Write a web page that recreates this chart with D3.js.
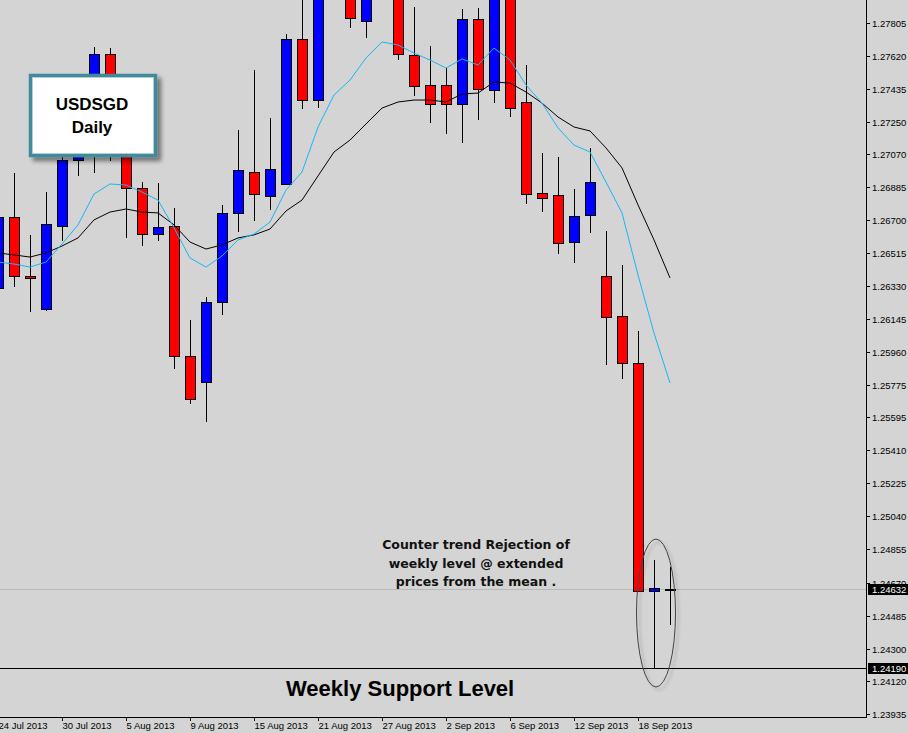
<!DOCTYPE html>
<html><head><meta charset="utf-8">
<script src="https://cdn.jsdelivr.net/npm/d3@7"></script>
<style>html,body{margin:0;padding:0;background:#d4d4d4;}svg{display:block}</style>
</head><body>
<svg id="chart" width="908" height="733"></svg>
<script>
// ---- data ----
const dates = ["2013-07-24","2013-07-25","2013-07-26","2013-07-29","2013-07-30","2013-07-31","2013-08-01","2013-08-02","2013-08-05","2013-08-06","2013-08-07","2013-08-08","2013-08-09","2013-08-12","2013-08-13","2013-08-14","2013-08-15","2013-08-16","2013-08-19","2013-08-20","2013-08-21","2013-08-22","2013-08-23","2013-08-26","2013-08-27","2013-08-28","2013-08-29","2013-08-30","2013-09-02","2013-09-03","2013-09-04","2013-09-05","2013-09-06","2013-09-09","2013-09-10","2013-09-11","2013-09-12","2013-09-13","2013-09-16","2013-09-17","2013-09-18","2013-09-19","2013-09-20"];
const opens  = [1.26319,1.26716,1.26386,1.26201,1.26666,1.27035,1.27371,1.27629,1.27343,1.26879,1.26621,1.26666,1.25938,1.25793,1.26241,1.26739,1.26968,1.26834,1.26901,1.27713,1.27371,1.27990,1.28099,1.27813,1.28050,1.28043,1.27623,1.27455,1.27455,1.27349,1.27825,1.27427,1.27987,1.27360,1.26851,1.26839,1.26576,1.26727,1.26386,1.26163,1.25899,1.24625,1.24632];
const highs  = [1.26811,1.26963,1.26616,1.26856,1.27103,1.27175,1.27668,1.27662,1.27382,1.26913,1.26907,1.26767,1.26140,1.26269,1.26783,1.27203,1.27539,1.27270,1.27741,1.28015,1.28099,1.28260,1.28155,1.28099,1.28150,1.28099,1.27892,1.27674,1.27550,1.27881,1.27886,1.28015,1.28043,1.27567,1.27075,1.27052,1.26873,1.27103,1.26638,1.26448,1.26078,1.24796,1.24757];
const lows   = [1.26280,1.26324,1.26185,1.26190,1.26582,1.26946,1.26963,1.27030,1.26599,1.26554,1.26582,1.25865,1.25669,1.25569,1.26168,1.26632,1.26694,1.26755,1.26895,1.27321,1.27326,1.27960,1.27774,1.27718,1.27950,1.27595,1.27394,1.27242,1.27181,1.27131,1.27259,1.27354,1.27276,1.26789,1.26744,1.26509,1.26459,1.26627,1.25888,1.25809,1.24620,1.24190,1.24433];
const closes = [1.26716,1.26386,1.26375,1.26677,1.27035,1.27091,1.27629,1.27343,1.26879,1.26621,1.26660,1.25938,1.25698,1.26241,1.26739,1.26979,1.26845,1.26985,1.27713,1.27371,1.27987,1.28150,1.27830,1.28043,1.27990,1.27629,1.27450,1.27349,1.27349,1.27825,1.27433,1.27959,1.27326,1.26845,1.26823,1.26571,1.26722,1.26913,1.26157,1.25899,1.24625,1.24640,1.24632];
const maFast = [1.26464,1.26453,1.26436,1.26464,1.26565,1.26672,1.26845,1.26901,1.26895,1.26856,1.26811,1.26655,1.26487,1.26436,1.26498,1.26588,1.26621,1.26688,1.26867,1.26968,1.27220,1.27399,1.27483,1.27606,1.27696,1.27679,1.27634,1.27595,1.27550,1.27601,1.27567,1.27662,1.27595,1.27455,1.27354,1.27215,1.27119,1.27080,1.26912,1.26739,1.26392,1.26067,1.25787];
const maSlow = [1.26515,1.26504,1.26492,1.26515,1.26554,1.26599,1.26700,1.26744,1.26761,1.26744,1.26739,1.26672,1.26576,1.26537,1.26560,1.26599,1.26616,1.26649,1.26750,1.26811,1.26946,1.27080,1.27147,1.27237,1.27326,1.27360,1.27371,1.27371,1.27360,1.27405,1.27410,1.27472,1.27466,1.27416,1.27354,1.27276,1.27220,1.27198,1.27103,1.26991,1.26784,1.26588,1.26375];
const xTickDates  = ["2013-07-24","2013-07-30","2013-08-05","2013-08-09","2013-08-15","2013-08-21","2013-08-27","2013-09-02","2013-09-06","2013-09-12","2013-09-18"];
const xTickLabels = ["24 Jul 2013","30 Jul 2013","5 Aug 2013","9 Aug 2013","15 Aug 2013","21 Aug 2013","27 Aug 2013","2 Sep 2013","6 Sep 2013","12 Sep 2013","18 Sep 2013"];
const yTickValues = [1.27805,1.27620,1.27435,1.27250,1.27070,1.26885,1.26700,1.26515,1.26330,1.26145,1.25960,1.25775,1.25595,1.25410,1.25225,1.25040,1.24855,1.24670,1.24485,1.24300,1.24120,1.23935];
const yTickLabels = ["1.27805","1.27620","1.27435","1.27250","1.27070","1.26885","1.26700","1.26515","1.26330","1.26145","1.25960","1.25775","1.25595","1.25410","1.25225","1.25040","1.24855","1.24670","1.24485","1.24300","1.24120","1.23935"];
const bidPrice = 1.24632, bidLabel = "1.24632";
const supportPrice = 1.24190, supportLabel = "1.24190";
const titleLines = ["USDSGD","Daily"];
const noteLines = ["Counter trend Rejection of","weekly level @ extended","prices from the mean ."];
const supportText = "Weekly Support Level";

// ---- layout ----
const W = 908, H = 733, plotR = 866, plotB = 717;
const svg = d3.select("#chart");
const font = "'Liberation Sans', Arial, sans-serif";
const boldFont = "'DejaVu Sans', Verdana, sans-serif";

const x = d3.scalePoint().domain(dates).range([-2, 670]);
const y = d3.scaleLinear().domain([1.239173, 1.27931]).range([plotB, 0]);

const defs = svg.append("defs");
defs.append("clipPath").attr("id","plotclip").append("rect").attr("x",0).attr("y",0).attr("width",plotR).attr("height",plotB);
const sh = defs.append("filter").attr("id","shadow").attr("x","-20%").attr("y","-20%").attr("width","150%").attr("height","150%");
sh.append("feGaussianBlur").attr("in","SourceAlpha").attr("stdDeviation",2.2).attr("result","b");
sh.append("feOffset").attr("in","b").attr("dx",4).attr("dy",4).attr("result","o");
sh.append("feComponentTransfer").attr("in","o").attr("result","o2").append("feFuncA").attr("type","linear").attr("slope",0.45);
const m1 = sh.append("feMerge"); m1.append("feMergeNode").attr("in","o2"); m1.append("feMergeNode").attr("in","SourceGraphic");
const sh2 = defs.append("filter").attr("id","shadow2").attr("x","-50%").attr("y","-20%").attr("width","200%").attr("height","150%");
sh2.append("feGaussianBlur").attr("in","SourceAlpha").attr("stdDeviation",1.8).attr("result","b");
sh2.append("feOffset").attr("in","b").attr("dx",3).attr("dy",3).attr("result","o");
sh2.append("feComponentTransfer").attr("in","o").attr("result","o2").append("feFuncA").attr("type","linear").attr("slope",0.25);
const m2 = sh2.append("feMerge"); m2.append("feMergeNode").attr("in","o2"); m2.append("feMergeNode").attr("in","SourceGraphic");

svg.append("rect").attr("width",W).attr("height",H).attr("fill","#d4d4d4");

const plot = svg.append("g").attr("clip-path","url(#plotclip)");

// horizontal price lines
plot.append("line").attr("x1",0).attr("x2",plotR)
  .attr("y1",Math.round(y(bidPrice))+0.5).attr("y2",Math.round(y(bidPrice))+0.5)
  .attr("stroke","#b9b9b9").attr("stroke-width",1);
plot.append("line").attr("x1",0).attr("x2",plotR)
  .attr("y1",Math.round(y(supportPrice))+0.5).attr("y2",Math.round(y(supportPrice))+0.5)
  .attr("stroke","#000").attr("stroke-width",1);

// candles
const candles = dates.map((d,i)=>({d, o:opens[i], h:highs[i], l:lows[i], c:closes[i]}));
const cg = plot.selectAll("g.candle").data(candles).join("g").attr("class","candle");
cg.append("line")
  .attr("x1",d=>x(d.d)+0.5).attr("x2",d=>x(d.d)+0.5)
  .attr("y1",d=>Math.round(y(d.h))).attr("y2",d=>Math.round(y(d.l)))
  .attr("stroke","#000").attr("stroke-width",1);
cg.append("rect")
  .attr("x",d=>x(d.d)-4.5).attr("width",10)
  .attr("y",d=>Math.round(y(Math.max(d.o,d.c)))+0.5)
  .attr("height",d=>Math.max(1, Math.round(y(Math.min(d.o,d.c))) - Math.round(y(Math.max(d.o,d.c)))))
  .attr("fill",d=>d.c>d.o?"#0000ff":(d.c<d.o?"#ff0000":"#000"))
  .attr("stroke","#000").attr("stroke-width",1);

// moving averages
const line = d3.line().x((v,i)=>x(dates[i])).y(v=>y(v));
plot.append("path").attr("d",line(maSlow)).attr("fill","none").attr("stroke","#000").attr("stroke-width",1);
plot.append("path").attr("d",line(maFast)).attr("fill","none").attr("stroke","#14b8f2").attr("stroke-width",1);

// axes frame
svg.append("line").attr("x1",plotR+0.5).attr("x2",plotR+0.5).attr("y1",0).attr("y2",plotB+1).attr("stroke","#000");
svg.append("line").attr("x1",0).attr("x2",plotR+1).attr("y1",plotB+0.5).attr("y2",plotB+0.5).attr("stroke","#000");

// y axis
const yAx = svg.append("g").selectAll("g").data(yTickValues).join("g")
  .attr("transform",d=>`translate(0,${Math.round(y(d))+0.5})`);
yAx.append("line").attr("x1",plotR).attr("x2",plotR+4).attr("stroke","#000");
yAx.append("text").attr("x",plotR+6).attr("dy","0.35em").text((d,i)=>yTickLabels[i])
  .attr("font-family",font).attr("font-size","9.5px").attr("fill","#000");

// x axis
const xAx = svg.append("g").selectAll("g").data(xTickDates).join("g")
  .attr("transform",d=>`translate(${x(d)+0.5},0)`);
xAx.append("line").attr("y1",plotB).attr("y2",plotB+4).attr("stroke","#000");
xAx.append("text").attr("x",0).attr("y",729).text((d,i)=>xTickLabels[i])
  .attr("font-family",font).attr("font-size","9.5px").attr("fill","#000");

// price boxes
[[bidPrice,bidLabel],[supportPrice,supportLabel]].forEach(([p,l])=>{
  const yy = Math.round(y(p));
  svg.append("rect").attr("x",plotR+2).attr("y",yy-5).attr("width",W-plotR-2).attr("height",11).attr("fill","#000");
  svg.append("text").attr("x",plotR+6).attr("y",yy+0.5).attr("dy","0.35em").text(l)
    .attr("font-family",font).attr("font-size","9.5px").attr("fill","#fff");
});

// ellipse highlight
svg.append("ellipse").attr("cx",656).attr("cy",613).attr("rx",19.5).attr("ry",74)
  .attr("fill","none").attr("stroke","#444").attr("stroke-width",1).attr("filter","url(#shadow2)");

// title box
const tb = svg.append("g");
tb.append("rect").attr("x",30.5).attr("y",75.5).attr("width",125).attr("height",80)
  .attr("fill","#fff").attr("stroke","#3f8a9b").attr("stroke-width",3.5).attr("filter","url(#shadow)");
tb.append("rect").attr("x",32.5).attr("y",77.5).attr("width",121).attr("height",76)
  .attr("fill","none").attr("stroke","#a9cbd3").attr("stroke-width",0.8);
tb.selectAll("text").data(titleLines).join("text")
  .attr("x",92).attr("y",(d,i)=>110+i*23).attr("text-anchor","middle")
  .attr("font-family",font).attr("font-weight","bold").attr("font-size","17px").attr("fill","#000").text(d=>d);

// annotation
svg.append("g").selectAll("text").data(noteLines).join("text")
  .attr("x",476).attr("y",(d,i)=>549+i*18.5).attr("text-anchor","middle")
  .attr("font-family",boldFont).attr("font-weight","bold").attr("font-size","12.5px").attr("fill","#111").text(d=>d);

svg.append("text").attr("x",286).attr("y",696).text(supportText)
  .attr("font-family",font).attr("font-weight","bold").attr("font-size","22px").attr("fill","#000");
</script>
</body></html>
